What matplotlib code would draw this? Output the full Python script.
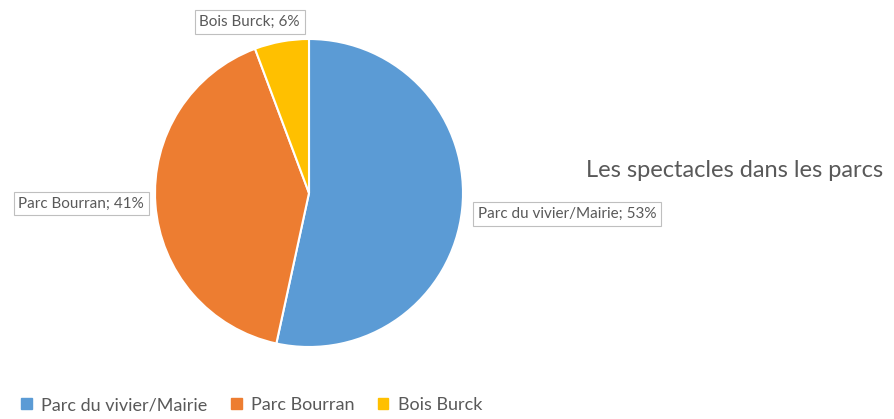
import matplotlib.pyplot as plt
from matplotlib.patches import Patch

plt.rcParams['font.family'] = ['Lato', 'DejaVu Sans']

parcs = ['Parc du vivier/Mairie', 'Parc Bourran', 'Bois Burck']
parts = [53.4, 40.9, 5.7]
colors = ['#5B9BD5', '#ED7D31', '#FFC000']
titre = 'Les spectacles dans les parcs'
gris = '#595959'

W, H = 894, 419
fig = plt.figure(figsize=(W / 100, H / 100), dpi=100)

# pie centre (309, 193) px, radius 154 px
cx, cy, r = 309, 193, 154
ax = fig.add_axes([(cx - r) / W, (H - cy - r) / H, 2 * r / W, 2 * r / H])
ax.pie(parts, colors=colors, startangle=90, counterclock=False, radius=1,
       wedgeprops=dict(edgecolor='white', linewidth=1.5))
ax.set_xlim(-1, 1)
ax.set_ylim(-1, 1)

# label boxes (positions in data units of the pie axes)
pos = [(1.675, -0.136), (-1.48, -0.07), (-0.385, 1.11)]
for nom, p, (x, y) in zip(parcs, parts, pos):
    ax.text(x, y, f'{nom}; {round(p)}%', ha='center', va='center', fontsize=11,
            color=gris, clip_on=False,
            bbox=dict(boxstyle='square,pad=0.3', fc='white', ec='#BFBFBF', lw=0.8))

fig.text(735 / W, (H - 170) / H, titre, ha='center', va='center',
         fontsize=17, color=gris)

handles = [Patch(color=c) for c in colors]
fig.legend(handles, parcs, loc='center left', bbox_to_anchor=(14 / W, 14 / H),
           ncol=3, frameon=False, fontsize=13, labelcolor=gris,
           handlelength=0.6, handleheight=0.6, handletextpad=0.5,
           columnspacing=1.3, borderaxespad=0)

plt.savefig('out.png', dpi=100)
